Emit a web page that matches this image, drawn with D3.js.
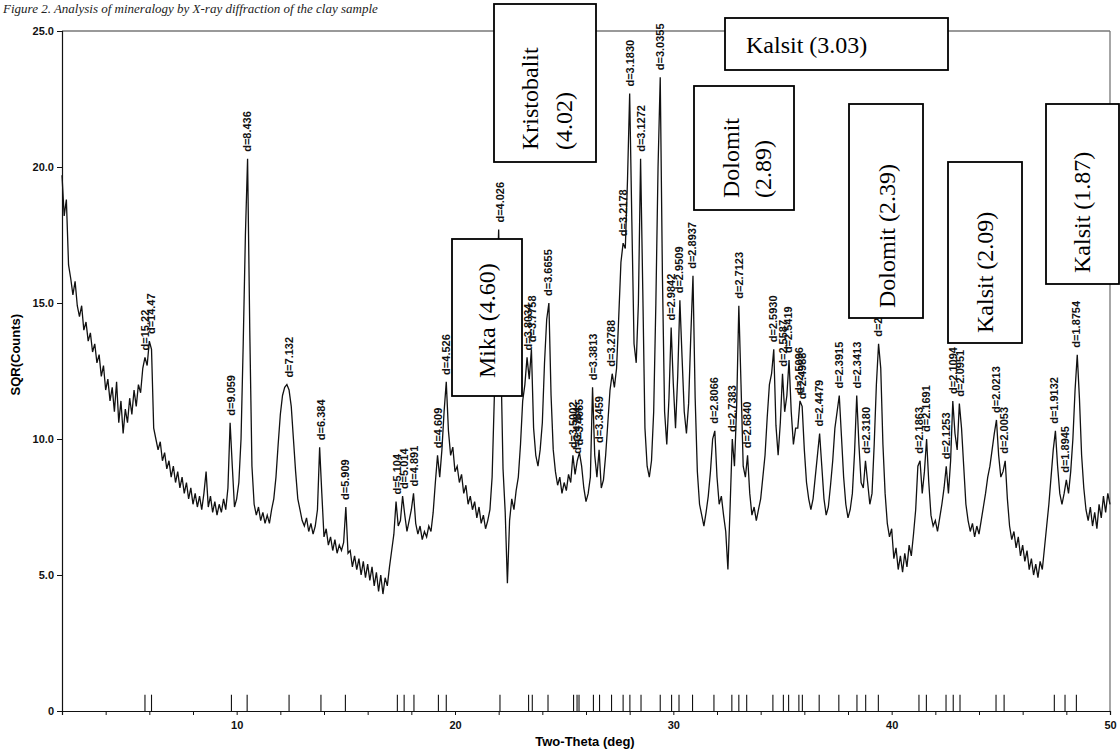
<!DOCTYPE html>
<html><head><meta charset="utf-8">
<script src="https://cdn.jsdelivr.net/npm/d3@7"></script>
<style>body{margin:0;background:#fff}svg{display:block}</style>
</head><body><svg id="c" width="1120" height="749"></svg>
<script>
// ---- data ----
const scanStart = 2.0, scanStep = 0.1;
const intensity = [
19.7,18.2,18.8,16.4,15.9,15.3,15.8,14.9,14.5,14.9,
14.0,14.3,13.6,13.9,13.2,13.5,12.8,13.1,12.3,12.7,
11.8,12.2,11.4,11.9,11.0,12.1,10.6,11.4,10.2,11.1,
10.6,11.5,10.9,11.8,11.2,12.0,11.7,12.6,13.0,12.7,
13.6,13.3,10.4,10.0,9.6,9.9,9.2,9.5,8.9,9.2,
8.6,9.0,8.4,8.8,8.2,8.6,8.0,8.4,7.8,8.2,
7.6,8.0,7.5,7.9,7.4,8.0,8.8,7.5,7.9,7.3,
7.7,7.2,7.6,7.3,7.8,7.4,8.2,10.6,9.0,7.5,
7.8,8.4,10.0,13.5,17.5,20.3,14.0,9.0,7.6,7.2,
7.5,7.0,7.3,6.9,7.2,6.9,7.4,7.8,8.6,9.8,
10.9,11.6,11.9,12.0,11.8,11.2,10.0,8.8,7.8,7.4,
7.0,6.8,7.1,6.6,6.9,6.5,6.8,7.4,9.7,8.0,
6.4,6.7,6.1,6.4,5.9,6.3,5.8,6.1,5.9,6.2,
7.5,5.8,5.9,5.3,5.7,5.2,5.6,5.0,5.5,4.9,
5.4,4.8,5.3,4.6,5.1,4.4,5.0,4.3,4.9,4.6,
5.3,5.9,6.5,7.7,6.8,7.0,7.9,7.2,6.6,7.0,
7.4,8.0,6.9,6.5,6.8,6.3,6.6,6.4,6.8,6.6,
7.3,8.4,9.4,8.6,9.6,11.0,12.1,10.3,9.4,9.7,
8.8,9.0,8.4,8.7,8.0,8.3,7.6,7.9,7.4,7.7,
7.1,7.5,6.9,7.2,6.7,7.0,7.4,8.6,11.5,15.0,
17.7,13.0,8.9,7.3,4.7,7.0,7.8,7.4,8.1,8.6,
9.8,11.4,12.0,13.0,12.2,13.3,10.4,9.4,9.0,9.6,
10.6,12.8,14.4,15.0,11.6,9.6,8.8,8.3,8.6,8.0,
8.4,8.1,8.7,8.4,9.4,8.7,9.2,9.5,9.0,8.2,
7.7,8.0,8.6,11.9,9.4,8.6,9.6,8.2,8.5,9.4,
10.6,11.8,12.4,11.9,12.6,14.5,16.5,17.2,17.0,19.5,
22.7,18.0,13.5,12.8,15.0,20.3,15.5,10.4,9.0,8.6,
9.2,11.0,15.0,20.0,23.3,16.0,11.0,9.8,11.5,14.1,
12.0,10.4,12.3,15.1,13.0,11.0,10.2,11.3,13.8,16.0,
11.5,8.8,7.6,7.2,6.8,7.3,7.9,8.8,10.0,10.3,
8.6,7.6,7.9,7.2,6.6,5.2,7.5,10.0,9.0,11.2,
14.9,12.0,9.0,8.6,9.4,8.0,7.2,7.5,7.0,7.4,
7.8,8.6,9.4,10.8,12.0,12.4,13.3,10.5,9.4,10.6,
12.4,11.0,11.6,12.9,11.0,9.8,10.4,10.4,11.4,11.2,
9.6,8.4,7.8,7.4,7.8,8.6,9.4,10.2,9.0,7.8,
7.2,7.5,8.3,9.2,10.4,11.0,11.6,10.1,8.6,7.6,
7.1,7.4,8.0,9.5,11.6,9.8,8.4,8.2,9.2,8.4,
7.6,8.0,9.8,12.0,13.5,12.6,9.8,8.0,6.9,6.4,
6.7,5.6,6.0,5.2,5.7,5.1,5.8,5.3,6.1,5.7,
6.5,7.4,9.0,9.2,8.0,8.8,10.0,8.4,7.2,6.8,
7.0,6.6,7.1,7.6,8.2,9.0,8.0,9.2,11.4,10.2,
9.6,11.3,10.4,9.0,7.6,7.0,6.6,6.9,6.4,6.8,
6.5,7.0,7.5,8.0,8.6,9.0,9.6,10.2,10.7,9.4,
8.6,8.8,9.2,7.8,6.8,6.3,6.6,6.0,6.4,5.7,
6.1,5.5,5.9,5.2,5.6,5.0,5.4,4.9,5.5,5.2,
6.0,6.8,7.6,8.6,9.6,10.3,9.0,8.0,7.6,8.0,
8.5,8.0,8.8,10.0,11.8,13.1,11.5,9.4,8.2,7.4,
7.0,7.5,6.8,7.3,6.7,7.6,7.1,7.9,7.3,8.0,
7.6
];
const peakTheta = [5.80,6.10,9.76,10.48,12.40,13.86,14.98,17.36,17.67,18.12,19.24,19.60,22.06,23.37,23.54,24.26,25.43,25.59,25.68,26.34,26.62,27.17,27.70,28.01,28.52,29.40,29.92,30.26,30.88,31.86,32.68,33.00,33.36,34.56,35.04,35.28,35.75,35.91,36.68,37.58,38.41,38.81,39.39,41.25,41.59,42.49,42.82,43.13,44.78,45.15,47.45,47.94,48.46];
const peakLabels = ["d=15.22","d=14.47","d=9.059","d=8.436","d=7.132","d=6.384","d=5.909","d=5.104","d=5.014","d=4.891","d=4.609","d=4.526","d=4.026","d=3.8034","d=3.7758","d=3.6655","d=3.5002","d=3.4784","d=3.4665","d=3.3813","d=3.3459","d=3.2788","d=3.2178","d=3.1830","d=3.1272","d=3.0355","d=2.9842","d=2.9509","d=2.8937","d=2.8066","d=2.7383","d=2.7123","d=2.6840","d=2.5930","d=2.5587","d=2.5419","d=2.5096","d=2.4988","d=2.4479","d=2.3915","d=2.3413","d=2.3180","d=2.2852","d=2.1863","d=2.1691","d=2.1253","d=2.1094","d=2.0951","d=2.0213","d=2.0053","d=1.9132","d=1.8945","d=1.8754"];
const xTickValues = [10,20,30,40,50];
const yTickValues = [0,5,10,15,20,25];
const phaseNames = ["Mika (4.60)","Kristobalit|(4.02)","Kalsit (3.03)","Dolomit|(2.89)","Dolomit (2.39)","Kalsit (2.09)","Kalsit (1.87)"];
const captionText = "Figure 2. Analysis of mineralogy by X-ray diffraction of the clay sample";

// ---- layout ----
const svg = d3.select("#c");
const L = 62, R = 1110, T = 31, B = 711;
const x = d3.scaleLinear().domain([2,50]).range([L,R]);
const y = d3.scaleLinear().domain([0,25]).range([B,T]);
const pts = intensity.map((v,i)=>[scanStart+i*scanStep, v]);

// caption
svg.append("text").attr("x",3).attr("y",13)
  .style("font-family","'Liberation Serif','Times New Roman',serif")
  .style("font-style","italic").style("font-size","13px").attr("fill","#222").text(captionText);

// frame top & right
svg.append("line").attr("x1",L).attr("x2",R).attr("y1",y(25)).attr("y2",y(25)).attr("stroke","#777").attr("stroke-width",1.3);
svg.append("line").attr("x1",R).attr("x2",R).attr("y1",y(25)).attr("y2",B).attr("stroke","#777").attr("stroke-width",1.3);

// axes
const fontAx = "'Liberation Sans',Arial,sans-serif";
const ya = svg.append("g").attr("transform",`translate(${L},0)`)
  .call(d3.axisLeft(y).tickValues(yTickValues).tickSize(5).tickPadding(3)
    .tickFormat(d=> d===0 ? "0" : d3.format(".1f")(d)));
const xa = svg.append("g").attr("transform",`translate(0,${B})`)
  .call(d3.axisBottom(x).tickValues(d3.range(4,51,2)).tickSize(4).tickPadding(6)
    .tickFormat(d=> xTickValues.includes(d) ? d : ""));
[ya,xa].forEach(g=>{
  g.select(".domain").attr("stroke","#111").attr("stroke-width",1.2);
  g.selectAll(".tick line").attr("stroke","#111");
  g.selectAll("text").style("font-family",fontAx).style("font-weight","bold")
   .style("font-size","11px").attr("fill","#111");
});

svg.append("text").attr("transform",`translate(20,${y(13.1)}) rotate(-90)`)
  .attr("text-anchor","middle").style("font-family",fontAx).style("font-weight","bold")
  .style("font-size","13px").text("SQR(Counts)");
svg.append("text").attr("x",585).attr("y",746).attr("text-anchor","middle")
  .style("font-family",fontAx).style("font-weight","bold").style("font-size","13px").text("Two-Theta (deg)");

// reference peak ticks at bottom
svg.append("g").selectAll("line").data(peakTheta).join("line")
  .attr("x1",d=>x(d)).attr("x2",d=>x(d)).attr("y1",y(0.6)).attr("y2",y(0))
  .attr("stroke","#111").attr("stroke-width",1.1);

// pattern
svg.append("path").datum(pts)
  .attr("d",d3.line().x(d=>x(d[0])).y(d=>y(d[1])))
  .attr("fill","none").attr("stroke","#111").attr("stroke-width",1.3).attr("stroke-linejoin","miter");

// peak labels
function peakValue(t){
  let m = 0;
  pts.forEach(p=>{ if (Math.abs(p[0]-t) <= 0.1+1e-6) m = Math.max(m,p[1]); });
  return m;
}
svg.append("g").selectAll("text").data(peakTheta).join("text")
  .attr("transform",(d)=>`translate(${x(d)},${y(peakValue(d))-7}) rotate(-90)`)
  .attr("dy","0.35em")
  .style("font-family",fontAx).style("font-weight","bold").style("font-size","11px")
  .attr("fill","#111").text((d,i)=>peakLabels[i]);

// phase annotation boxes
const serif = "'Liberation Serif','Times New Roman',serif";
const boxes = [
  {r:[452,239,70,157], rot:true, tx:[487], ty:378},
  {r:[494,4,102,158], rot:true, tx:[530,564], ty:150},
  {r:[725,18,223,52], rot:false, tx:[746], ty:53},
  {r:[694,86,100,124], rot:true, tx:[731,763], ty:198},
  {r:[849,104,74,214], rot:true, tx:[887], ty:308},
  {r:[948,162,74,181], rot:true, tx:[985], ty:333},
  {r:[1046,104,73,180], rot:true, tx:[1082], ty:273}
];
boxes.forEach((b,i)=>{
  svg.append("rect").attr("x",b.r[0]).attr("y",b.r[1]).attr("width",b.r[2]).attr("height",b.r[3])
    .attr("fill","#fff").attr("stroke","#000").attr("stroke-width",1.8);
  const lines = phaseNames[i].split("|");
  lines.forEach((ln,j)=>{
    const t = svg.append("text").style("font-family",serif).style("font-size","24px").attr("fill","#000").text(ln);
    if (b.rot) t.attr("transform",`translate(${b.tx[j]},${b.ty}) rotate(-90)`).attr("dy","0.35em");
    else t.attr("x",b.tx[j]).attr("y",b.ty);
  });
});
</script>
</body></html>
